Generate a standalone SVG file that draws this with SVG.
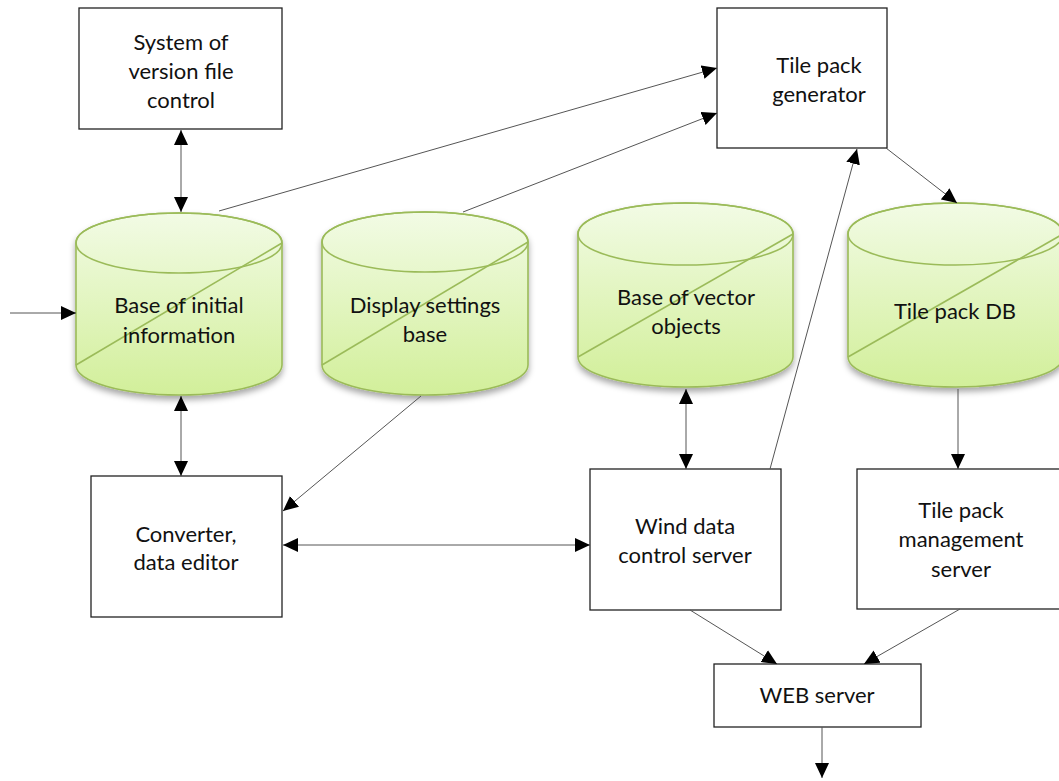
<svg xmlns="http://www.w3.org/2000/svg" width="1059" height="781" viewBox="0 0 1059 781">
<defs>
<linearGradient id="cylFill" x1="0" y1="0" x2="0" y2="1">
<stop offset="0" stop-color="#f2fbe5"/>
<stop offset="1" stop-color="#d2ef9a"/>
</linearGradient>
<filter id="shadow" x="-10%" y="-10%" width="120%" height="125%">
<feDropShadow dx="0" dy="4" stdDeviation="3" flood-color="#000" flood-opacity="0.35"/>
</filter>
<marker id="arr" markerUnits="userSpaceOnUse" markerWidth="15" markerHeight="14" refX="15" refY="7" orient="auto">
<path d="M0,0 L15,7 L0,14 Z" fill="#000"/>
</marker>
<marker id="arrStart" markerUnits="userSpaceOnUse" markerWidth="15" markerHeight="14" refX="0" refY="7" orient="auto">
<path d="M15,0 L0,7 L15,14 Z" fill="#000"/>
</marker>
</defs>
<style>
.box{fill:#fff;stroke:#222;stroke-width:1.3}
.cyl{fill:url(#cylFill);stroke:#9bbb59;stroke-width:1.6}
.cyltop{fill:none;stroke:#9bbb59;stroke-width:1.6}
.lbl{font-family:Lato,"Liberation Sans",sans-serif;font-size:22px;fill:#111;text-anchor:middle}
.con{fill:none;stroke:#555;stroke-width:1}
</style>
<rect width="1059" height="781" fill="#fff"/>

<g id="version-control">
<rect class="box" x="79" y="8" width="203" height="121"/>
<text class="lbl" x="181" y="50">System of</text>
<text class="lbl" x="181" y="79">version file</text>
<text class="lbl" x="181" y="108">control</text>
</g>

<g id="tile-pack-generator">
<rect class="box" x="717" y="8" width="170" height="140"/>
<text class="lbl" x="819" y="73">Tile pack</text>
<text class="lbl" x="819" y="102">generator</text>
</g>

<g id="base-initial">
<path class="cyl" filter="url(#shadow)" d="M76,243 A103,30 0 0,1 282,243 L282,365 A103,30 0 0,1 76,365 Z"/>
<ellipse class="cyltop" cx="179" cy="243" rx="103" ry="30"/>
<line class="cyltop" x1="76" y1="365" x2="282" y2="243"/>
<text class="lbl" x="179" y="313">Base of initial</text>
<text class="lbl" x="179" y="343">information</text>
</g>

<g id="display-settings">
<path class="cyl" filter="url(#shadow)" d="M322,242 A103,30 0 0,1 528,242 L528,365 A103,30 0 0,1 322,365 Z"/>
<ellipse class="cyltop" cx="425" cy="242" rx="103" ry="30"/>
<line class="cyltop" x1="322" y1="365" x2="528" y2="242"/>
<text class="lbl" x="425" y="313">Display settings</text>
<text class="lbl" x="425" y="342">base</text>
</g>

<g id="vector-objects">
<path class="cyl" filter="url(#shadow)" d="M578,234 A107.5,31 0 0,1 793,234 L793,357 A107.5,30 0 0,1 578,357 Z"/>
<ellipse class="cyltop" cx="685.5" cy="234" rx="107.5" ry="31"/>
<line class="cyltop" x1="578" y1="357" x2="793" y2="234"/>
<text class="lbl" x="686" y="305">Base of vector</text>
<text class="lbl" x="686" y="334">objects</text>
</g>

<g id="tile-pack-db">
<path class="cyl" filter="url(#shadow)" d="M848,234 A107.5,31 0 0,1 1063,234 L1063,357 A107.5,30 0 0,1 848,357 Z"/>
<ellipse class="cyltop" cx="955.5" cy="234" rx="107.5" ry="31"/>
<line class="cyltop" x1="848" y1="357" x2="1063" y2="234"/>
<text class="lbl" x="955" y="319">Tile pack DB</text>
</g>

<g id="converter">
<rect class="box" x="91" y="476" width="191" height="141"/>
<text class="lbl" x="186" y="542">Converter,</text>
<text class="lbl" x="186" y="570">data editor</text>
</g>

<g id="wind-server">
<rect class="box" x="590" y="469" width="191" height="141"/>
<text class="lbl" x="685" y="534">Wind data</text>
<text class="lbl" x="685" y="563">control server</text>
</g>

<g id="tile-pack-management">
<rect class="box" x="857" y="469" width="210" height="140"/>
<text class="lbl" x="961" y="518">Tile pack</text>
<text class="lbl" x="961" y="547">management</text>
<text class="lbl" x="961" y="577">server</text>
</g>

<g id="web-server">
<rect class="box" x="714" y="664" width="207" height="63"/>
<text class="lbl" x="817" y="703">WEB server</text>
</g>

<g id="connectors">
<line class="con" x1="181" y1="130" x2="181" y2="212" marker-start="url(#arrStart)" marker-end="url(#arr)"/>
<line class="con" x1="219" y1="211" x2="717" y2="68" marker-end="url(#arr)"/>
<line class="con" x1="463" y1="212" x2="717" y2="113" marker-end="url(#arr)"/>
<line class="con" x1="886" y1="148" x2="957" y2="203" marker-end="url(#arr)"/>
<line class="con" x1="770" y1="469" x2="857" y2="149" marker-end="url(#arr)"/>
<line class="con" x1="10" y1="313" x2="76" y2="313" marker-end="url(#arr)"/>
<line class="con" x1="181" y1="396" x2="181" y2="476" marker-start="url(#arrStart)" marker-end="url(#arr)"/>
<line class="con" x1="421" y1="396" x2="283" y2="511" marker-end="url(#arr)"/>
<line class="con" x1="283" y1="545" x2="590" y2="545" marker-start="url(#arrStart)" marker-end="url(#arr)"/>
<line class="con" x1="686" y1="389" x2="686" y2="469" marker-start="url(#arrStart)" marker-end="url(#arr)"/>
<line class="con" x1="958" y1="389" x2="958" y2="469" marker-end="url(#arr)"/>
<line class="con" x1="690" y1="610" x2="777" y2="664" marker-end="url(#arr)"/>
<line class="con" x1="960" y1="609" x2="864" y2="664" marker-end="url(#arr)"/>
<line class="con" x1="822" y1="727" x2="822" y2="778" marker-end="url(#arr)"/>
</g>
</svg>
